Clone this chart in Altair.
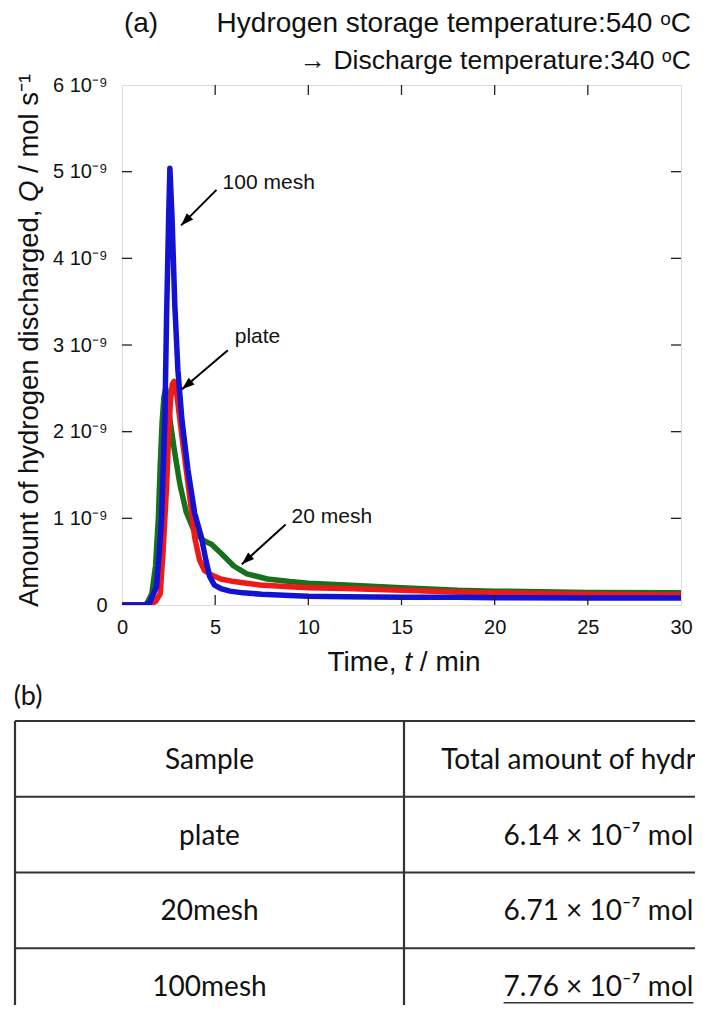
import math
import altair as alt
import pandas as pd

# ---------------- data ----------------
# Time in min, Q in units of 1e-9 mol s^-1
t_plate = [0, 1.5, 1.8, 2.05, 2.2, 2.3, 2.4, 2.5, 2.6, 2.7, 2.8, 2.9, 3.0, 3.22, 3.45, 3.72,
           3.9, 4.16, 4.42, 4.78, 5.3, 6.0, 7.4, 9, 10, 12, 15, 18, 20, 25, 30]
q_plate = [0, 0, 0.04, 0.13, 0.6, 1.0, 1.4, 1.95, 2.35, 2.55, 2.58, 2.5, 2.33, 1.94, 1.56, 1.1,
           0.78, 0.52, 0.4, 0.35, 0.3, 0.27, 0.23, 0.21, 0.2, 0.19, 0.17, 0.15, 0.14, 0.125, 0.115]

t_20 = [0, 1.3, 1.6, 1.8, 1.95, 2.05, 2.15, 2.25, 2.35, 2.45, 2.6, 2.8, 3.1, 3.45, 3.9, 4.4,
        4.8, 5.3, 6.0, 6.7, 7.8, 9, 10, 12, 15, 18, 20, 25, 30]
q_20 = [0, 0, 0.13, 0.45, 1.0, 1.6, 2.1, 2.4, 2.5, 2.35, 2.1, 1.8, 1.4, 1.07, 0.84, 0.74,
        0.7, 0.6, 0.45, 0.36, 0.3, 0.27, 0.25, 0.23, 0.2, 0.17, 0.16, 0.145, 0.14]

t_100 = [0, 1.2, 1.5, 1.85, 2.0, 2.12, 2.3, 2.39, 2.5, 2.57, 2.69, 2.83, 3.0, 3.22, 3.54, 3.9,
         4.25, 4.5, 4.7, 4.96, 5.3, 5.8, 6.5, 7.5, 9, 10, 12, 15, 18, 20, 25, 30]
q_100 = [0, 0, 0.03, 0.21, 0.6, 0.98, 2.13, 3.3, 4.44, 5.04, 4.44, 3.48, 2.71, 2.13, 1.56, 1.06,
         0.79, 0.52, 0.33, 0.23, 0.19, 0.16, 0.14, 0.125, 0.11, 0.1, 0.095, 0.09, 0.088, 0.085, 0.08, 0.08]

series_order = ["20 mesh", "plate", "100 mesh"]
series_colors = ["#17701c", "#ee1a1a", "#1212d2"]

x_ticks = [0, 5, 10, 15, 20, 25, 30]
y_ticks = [0, 1, 2, 3, 4, 5, 6]

ann_labels = ["100 mesh", "plate", "20 mesh"]
ann_tail_t = [5.07, 5.68, 8.78]
ann_tail_q = [4.79, 2.94, 0.93]
ann_head_t = [3.17, 3.22, 6.43]
ann_head_q = [4.38, 2.49, 0.47]
ann_text_t = [5.4, 6.05, 9.1]
ann_text_q = [4.87, 3.09, 1.01]

table_samples = ["Sample", "plate", "20mesh", "100mesh"]
table_totals = ["Total amount of hydrogen", "6.14 × 10⁻⁷ mol", "6.71 × 10⁻⁷ mol", "7.76 × 10⁻⁷ mol"]
underlined_row = 3

# ---------------- layout constants ----------------
W, H = 559, 520
PAD_L, PAD_T, PAD_R, PAD_B = 114, 77, 14, 400
OX = 8 + PAD_L          # page x of the plot's left edge
FONT = "Liberation Sans"
TFONT = "Lato"
FS_TITLE = 28
FS_YTITLE = 27.5
FS_TICK = 20
FS_ANN = 21
FS_TABLE = 28

# ---------------- build frames ----------------
rows = []
for name, ts, qs in [("plate", t_plate, q_plate), ("20 mesh", t_20, q_20), ("100 mesh", t_100, q_100)]:
    for t, q in zip(ts, qs):
        rows.append({"series": name, "t": t, "q": q})
curves = pd.DataFrame(rows)

xscale = alt.Scale(domain=[0, 30], nice=False, zero=False)
yscale = alt.Scale(domain=[0, 6], nice=False)
xaxis = alt.Axis(values=x_ticks, tickSize=0, domain=False, grid=False, title=None,
                 labelFont=FONT, labelFontSize=FS_TICK, labelColor="#111", labelPadding=12,
                 labelFlush=False)
yaxis = alt.Axis(values=y_ticks, tickSize=0, domain=False, grid=False, title=None,
                 labelFont=FONT, labelFontSize=FS_TICK, labelColor="#111", labelPadding=15,
                 labelExpr="datum.value == 0 ? '0' : datum.value + ' 10⁻⁹'")


def X(f):
    return alt.X(f, type="quantitative", scale=xscale, axis=xaxis)


def Y(f):
    return alt.Y(f, type="quantitative", scale=yscale, axis=yaxis)


lines = []
for name, col in zip(series_order, series_colors):
    lines.append(
        alt.Chart(curves[curves.series == name]).mark_line(
            color=col, strokeWidth=5.5, strokeJoin="round", strokeCap="round", clip=True
        ).encode(x=X("t"), y=Y("q"), order="t:Q")
    )

# inward ticks on all four sides
xt_inner = pd.DataFrame({"t": x_ticks[1:-1]})
yt_inner = pd.DataFrame({"q": y_ticks[1:-1]})
TL = 10
tick_layers = [
    alt.Chart(xt_inner).mark_rule(color="#222", strokeWidth=1.3).encode(x=X("t"), y=alt.value(H), y2=alt.value(H - TL)),
    alt.Chart(xt_inner).mark_rule(color="#222", strokeWidth=1.3).encode(x=X("t"), y=alt.value(0), y2=alt.value(TL)),
    alt.Chart(yt_inner).mark_rule(color="#222", strokeWidth=1.3).encode(y=Y("q"), x=alt.value(0), x2=alt.value(TL)),
    alt.Chart(yt_inner).mark_rule(color="#222", strokeWidth=1.3).encode(y=Y("q"), x=alt.value(W), x2=alt.value(W - TL)),
]

# annotations with arrows
ppx = W / 30.0
ppy = H / 6.0
angles = []
for tt, tq, ht, hq in zip(ann_tail_t, ann_tail_q, ann_head_t, ann_head_q):
    dx = (ht - tt) * ppx
    dy = -(hq - tq) * ppy
    angles.append(math.degrees(math.atan2(dx, -dy)) % 360)
ann = pd.DataFrame({
    "label": ann_labels, "tt": ann_tail_t, "tq": ann_tail_q, "ht": ann_head_t, "hq": ann_head_q,
    "xt": ann_text_t, "xq": ann_text_q, "angle": angles,
})
arrow_rule = alt.Chart(ann).mark_rule(color="black", strokeWidth=2).encode(
    x=X("tt"), y=Y("tq"), x2="ht:Q", y2="hq:Q")
arrow_head = alt.Chart(ann).mark_point(
    shape="M0,0L-0.6,1.7L0.6,1.7Z", filled=True, color="black", opacity=1, size=220
).encode(x=X("ht"), y=Y("hq"), angle=alt.Angle("angle:Q", scale=None))
ann_text = alt.Chart(ann).mark_text(
    align="left", baseline="middle", font=FONT, fontSize=FS_ANN, color="#111"
).encode(x=X("xt"), y=Y("xq"), text="label:N")

one = pd.DataFrame({"k": [0]})


def txt(s, x, y, align="center", size=FS_TITLE, font=FONT, style="normal", angle=0, baseline="middle"):
    kw = dict(align=align, baseline=baseline, font=font, fontSize=size, color="#111",
              fontStyle=style, text=s)
    if angle:
        kw["angle"] = angle
    return alt.Chart(one).mark_text(**kw).encode(x=alt.value(x), y=alt.value(y))


title_layers = [
    txt("(a)", 141 - OX, -61),
    txt("Hydrogen storage temperature:540 ᵒC", 691 - OX, -61, align="right"),
    txt("→ Discharge temperature:340 ᵒC", 691 - OX, -24, align="right", size=26.5),
]

# x title "Time, t / min" with italic t
em = FS_TITLE
w_time = 2.5 * em
w_sp = 0.278 * em
w_t = 0.278 * em
w_min = 2.167 * em
total = w_time + w_sp + w_t + w_sp + w_min
x0 = W / 2 - total / 2 + 2
ty = 578
title_layers += [
    txt("Time,", x0 + w_time, ty, align="right"),
    txt("t", x0 + w_time + w_sp + w_t / 2, ty, style="italic"),
    txt("/ min", x0 + w_time + w_sp + w_t + w_sp, ty, align="left"),
]

# y title rotated, with italic Q
yem = FS_YTITLE
yx = 30 - OX
wA = 14.452 * yem
wQ = 0.778 * yem
ysp = 0.278 * yem
yA0 = H + 2
yQ = yA0 - wA - ysp
title_layers += [
    txt("Amount of hydrogen discharged,", yx, yA0, align="left", angle=270, size=yem),
    txt("Q", yx, yQ, align="left", angle=270, style="italic", size=yem),
    txt("/ mol s⁻¹", yx, yQ - wQ - ysp, align="left", angle=270, size=yem),
]

plot = alt.layer(*lines, *tick_layers, arrow_rule, arrow_head, ann_text, *title_layers)

# ---------------- table (b) ----------------
tab_left, tab_div = 15, 404
tab_col = tab_div - tab_left
tx = alt.Scale(domain=[0, 2], range=[tab_left - OX, tab_left + 2 * tab_col - OX])
ty_s = alt.Scale(domain=[0, 4], range=[636, 939])
hl = pd.DataFrame({"r": [0, 1, 2, 3, 4], "c0": [0] * 5, "c1": [2] * 5})
vl = pd.DataFrame({"c": [0, 1, 2], "r0": [0] * 3, "r1": [4] * 3})
cells = pd.DataFrame({
    "r": [i + 0.5 for i in range(len(table_samples))] * 2,
    "c": [0.5] * len(table_samples) + [1.5] * len(table_totals),
    "s": table_samples + table_totals,
})
ul = pd.DataFrame({"r": [underlined_row + 0.5 + 0.22], "c0": [1.5 - 0.244], "c1": [1.5 + 0.244]})

tab_h = alt.Chart(hl).mark_rule(color="#333", strokeWidth=2.2).encode(
    x=alt.X("c0:Q", scale=tx, axis=None), x2="c1:Q", y=alt.Y("r:Q", scale=ty_s, axis=None))
tab_v = alt.Chart(vl).mark_rule(color="#333", strokeWidth=2.2).encode(
    x=alt.X("c:Q", scale=tx, axis=None), y=alt.Y("r0:Q", scale=ty_s, axis=None), y2="r1:Q")
tab_t = alt.Chart(cells).mark_text(font=TFONT, fontSize=FS_TABLE, color="#111", baseline="middle", dy=2).encode(
    x=alt.X("c:Q", scale=tx, axis=None), y=alt.Y("r:Q", scale=ty_s, axis=None), text="s:N")
tab_u = alt.Chart(ul).mark_rule(color="#333", strokeWidth=1.6).encode(
    x=alt.X("c0:Q", scale=tx, axis=None), x2="c1:Q", y=alt.Y("r:Q", scale=ty_s, axis=None))
tab_b = txt("(b)", 28 - OX, 612, font=TFONT, size=27)

table = alt.layer(tab_h, tab_v, tab_t, tab_u, tab_b)

chart = alt.layer(plot, table).resolve_scale(x="independent", y="independent").properties(
    width=W, height=H,
    autosize=alt.AutoSizeParams(type="none"),
    padding={"left": PAD_L, "top": PAD_T, "right": PAD_R, "bottom": PAD_B},
).configure_view(stroke="#222", strokeWidth=1.5).configure(background="white")

chart.save("out.html", embed_options={"renderer": "svg", "actions": False})
